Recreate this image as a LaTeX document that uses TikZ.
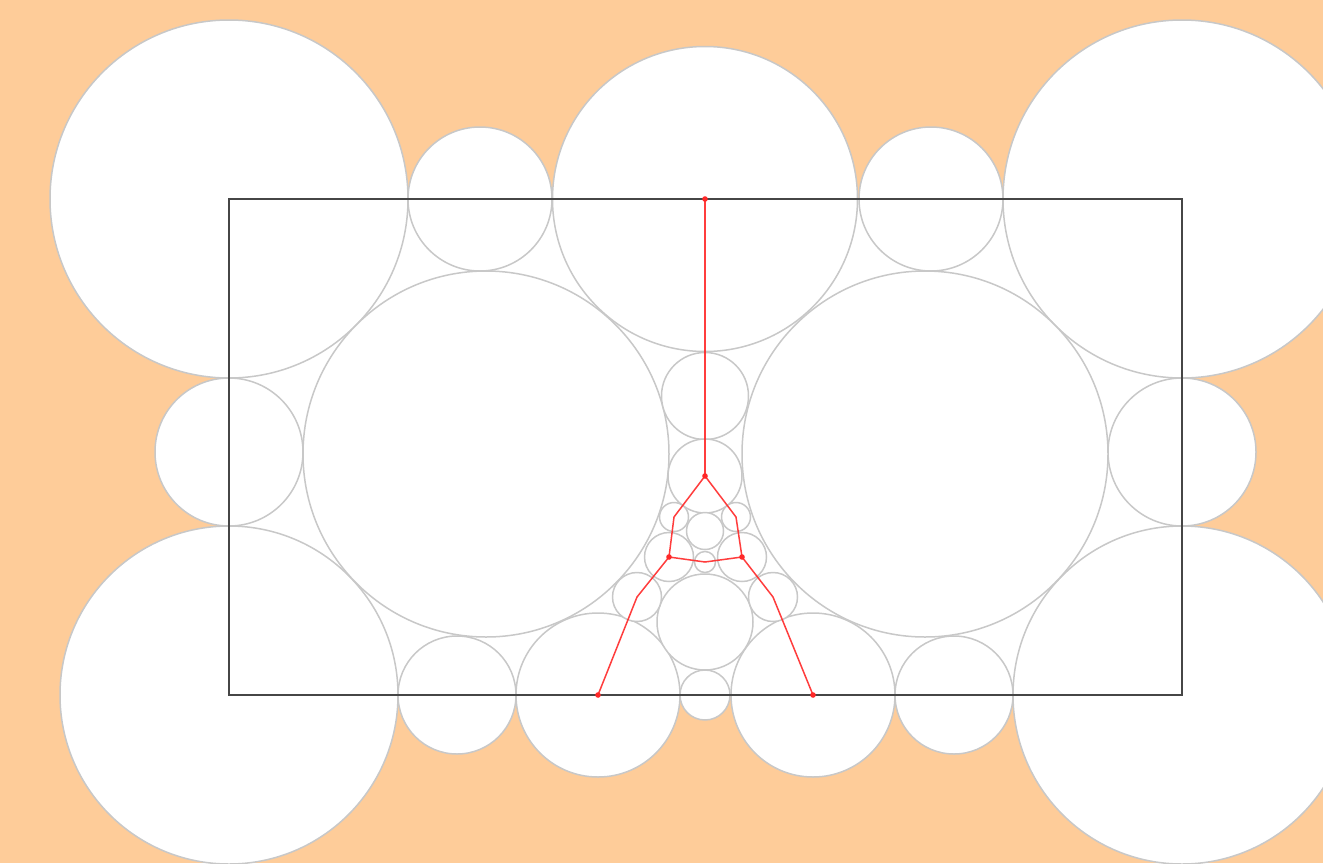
\documentclass[tikz,border=0pt]{standalone}
\definecolor{bgpeach}{RGB}{254,204,153}
\definecolor{circgray}{RGB}{200,200,200}
\definecolor{rectgray}{RGB}{70,70,70}
\definecolor{pathred}{RGB}{255,40,40}
\begin{document}
\begin{tikzpicture}[x=1pt,y=-1pt,
  disc/.style={draw=circgray,fill=white,line width=1.5pt},
  frame/.style={draw=rectgray,line width=1.6pt},
  redline/.style={draw=pathred,line width=1.5pt,line join=round,opacity=0.9},
  reddot/.style={fill=pathred}]
\useasboundingbox (0,0) rectangle (1323,863);
\fill[bgpeach] (0,0) rectangle (1323,863);
\fill[white] (229,199) rectangle (1182,695);
\begin{scope}
\clip (0,0) rectangle (1323,863);
% circle centres
\coordinate (cTL) at (229,199);
\coordinate (cTR) at (1182,199);
\coordinate (cBL) at (229,695);
\coordinate (cBR) at (1182,695);
\coordinate (cTM) at (705,199);
\coordinate (cTSL) at (480,199);
\coordinate (cTSR) at (931,199);
\coordinate (cML) at (229,452);
\coordinate (cMR) at (1182,452);
\coordinate (cBigL) at (486,454);
\coordinate (cBigR) at (925,454);
\coordinate (cBSL) at (457,695);
\coordinate (cBSR) at (954,695);
\coordinate (cBML) at (598,695);
\coordinate (cBMR) at (813,695);
\coordinate (cBT) at (705,695);
\coordinate (cC1) at (705,396);
\coordinate (cC2) at (705,476);
\coordinate (cC3) at (705,531);
\coordinate (cC4) at (705,562);
\coordinate (cC5) at (705,622);
\coordinate (cSL) at (674,517);
\coordinate (cSR) at (736,517);
\coordinate (cDL) at (669,557);
\coordinate (cDR) at (742,557);
\coordinate (cEL) at (637,597);
\coordinate (cER) at (773,597);
% circles
\path[disc] (cTL) circle (179);
\path[disc] (cTR) circle (179);
\path[disc] (cBL) circle (169);
\path[disc] (cBR) circle (169);
\path[disc] (cTM) circle (152.5);
\path[disc] (cTSL) circle (72);
\path[disc] (cTSR) circle (72);
\path[disc] (cML) circle (74);
\path[disc] (cMR) circle (74);
\path[disc] (cBigL) circle (183);
\path[disc] (cBigR) circle (183);
\path[disc] (cBSL) circle (59);
\path[disc] (cBSR) circle (59);
\path[disc] (cBML) circle (82);
\path[disc] (cBMR) circle (82);
\path[disc] (cBT) circle (25);
\path[disc] (cC1) circle (43.5);
\path[disc] (cC2) circle (37);
\path[disc] (cC3) circle (18.5);
\path[disc] (cC4) circle (10.5);
\path[disc] (cC5) circle (48);
\path[disc] (cSL) circle (14.5);
\path[disc] (cSR) circle (14.5);
\path[disc] (cDL) circle (24.5);
\path[disc] (cDR) circle (24.5);
\path[disc] (cEL) circle (24.5);
\path[disc] (cER) circle (24.5);
\end{scope}
% frame
\draw[frame] (229,199) rectangle (1182,695);
% red path
\draw[redline] (cTM) -- (cC2);
\draw[redline] (cC2) -- (cSL) -- (cDL) -- (cEL) -- (cBML);
\draw[redline] (cC2) -- (cSR) -- (cDR) -- (cER) -- (cBMR);
\draw[redline] (cDL) -- (cC4) -- (cDR);
\foreach \p in {cTM,cC2,cDL,cDR,cBML,cBMR}
  \fill[reddot] (\p) circle (2.8);
\end{tikzpicture}
\end{document}
